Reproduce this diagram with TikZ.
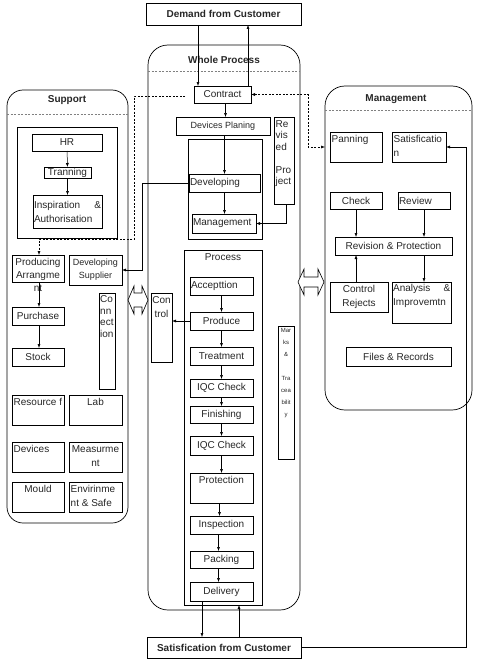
\documentclass[tikz,border=0pt]{standalone}
\usepackage{fontspec}
\setmainfont{Liberation Sans}
\usetikzlibrary{arrows.meta,calc}
\newcommand\mybox[7][]{%
 \pgfmathsetmacro\bxw{#5-#3}\pgfmathsetmacro\bxh{#6-#4}\pgfmathsetmacro\bxtw{#5-#3-2}%
 \node[box,anchor=north west,minimum width=\bxw pt,minimum height=\bxh pt,#1] (#2) at (#3,#4) {#7};}
\begin{document}
\begin{tikzpicture}[x=1pt,y=-1pt,
  box/.style={draw=black,line width=0.6pt,inner sep=0pt,outer sep=0pt,font=\fontsize{10}{13.5}\selectfont,text=black!85,align=center},
  lft/.style={text width=\bxtw pt,align=left,inner xsep=1pt},
  txt/.style={inner sep=2pt,yshift=-1.5pt,font=\fontsize{10}{13.5}\selectfont,text=black!85},
  arr/.style={line width=0.5pt,-{Latex[length=4pt,width=3pt]}},
  dsh/.style={line width=0.5pt,dash pattern=on 2pt off 1.5pt},
  cont/.style={draw=black,line width=0.7pt,rounded corners=20pt},
  ttl/.style={font=\bfseries\fontsize{10}{12}\selectfont,text=black!85},
]
\useasboundingbox (0,0) rectangle (481,661);

% containers
\mybox[cont,rounded corners=16pt]{support}{7}{90}{128}{523}{}
\mybox[cont]{whole}{148}{45}{300}{610}{}
\mybox[cont]{management}{325}{86}{472}{410}{}
\draw[dsh,gray] (7,114) -- (128,114);
\draw[dsh,gray] (148,71) -- (300,71);
\draw[dsh,gray] (325,110) -- (472,110);
\node[ttl] (supportT) at (67,100) {Support};
\node[ttl] (wholeT) at (224,60) {Whole Process};
\node[ttl] (mgmtT) at (396,99) {Management};

% customer boxes
\mybox[font=\bfseries\fontsize{10}{12}\selectfont]{demand}{146}{3}{301}{25}{Demand from Customer}
\mybox[font=\bfseries\fontsize{10}{12}\selectfont]{satis}{147}{637}{301}{658}{Satisfication from Customer}

% whole process
\mybox{contract}{194}{86}{251}{103}{Contract}
\mybox[font=\fontsize{9}{11}\selectfont]{devplan}{176}{117}{270}{135}{Devices Planing}
\mybox{revised}{274}{117}{294}{204}{}
\node[txt,anchor=north west,align=left,inner sep=1.5pt,font=\fontsize{10}{11.5}\selectfont] (revisedT) at (revised.north west) {Re\\vis\\ed\\\mbox{}\\Pro\\ject};
\mybox{devcont}{188}{139}{262}{239}{}
\mybox[lft]{developing}{189}{174}{260}{192}{Developing}
\mybox[lft]{mgmtin}{192}{214}{256}{233}{Management}

\mybox{process}{184}{250}{262}{605}{}
\node[txt,anchor=north] (processT) at (process.north) {Process};
\mybox[lft]{accept}{190}{277}{253}{295}{Accepttion}
\mybox{produce}{190}{312}{253}{330}{Produce}
\mybox{treatment}{190}{347}{253}{365}{Treatment}
\mybox{iqc1}{190}{379}{253}{397}{IQC Check}
\mybox{finishing}{190}{406}{253}{423}{Finishing}
\mybox{iqc2}{190}{436}{253}{455}{IQC Check}
\mybox{protection}{190}{473}{253}{503}{}
\node[txt,anchor=north] (protectionT) at (protection.north) {Protection};
\mybox{inspection}{190}{516}{253}{534}{Inspection}
\mybox{packing}{190}{551}{253}{568}{Packing}
\mybox{delivery}{190}{582}{253}{601}{Delivery}
\mybox{control}{151}{293}{172}{362}{}
\node[txt,anchor=north,align=center] (controlT) at (control.north) {Con\\trol};
\mybox{marks}{278}{326}{294}{459}{}
\node[txt,anchor=north,align=center,inner sep=1pt,font=\fontsize{6}{12}\selectfont] (marksT) at (marks.north) {Mar\\ks\\\&\\\mbox{}\\Tra\\cea\\bilit\\y};

% support
\mybox{hrcont}{17}{127}{117}{238}{}
\mybox{hr}{32}{134}{102}{151}{HR}
\mybox{training}{44}{167}{91}{178}{Tranning}
\mybox[lft,font=\fontsize{10}{14}\selectfont]{inspiration}{33}{195}{102}{228}{Inspiration\hfill\&\\Authorisation}
\mybox{producing}{12}{255}{64}{282}{}
\node[txt,anchor=north,align=center,font=\fontsize{10}{13}\selectfont] (producingT) at (producing.north) {Producing\\Arrangme\\nt};
\mybox[font=\fontsize{9}{13}\selectfont]{devsupplier}{69}{255}{122}{285}{Developing\\Supplier}
\mybox{purchase}{12}{307}{64}{325}{Purchase}
\mybox{stock}{12}{348}{64}{366}{Stock}
\mybox{connection}{99}{293}{115}{389}{}
\node[txt,anchor=north west,align=left,inner sep=1pt,font=\fontsize{10}{11.5}\selectfont] (connectionT) at (connection.north west) {Co\\nn\\ect\\ion};
\mybox{resource}{12}{395}{64}{425}{}
\node[txt,anchor=north west,inner sep=1.5pt] (resourceT) at (resource.north west) {Resource f};
\mybox{lab}{69}{395}{122}{425}{}
\node[txt,anchor=north] (labT) at (lab.north) {Lab};
\mybox{devices}{12}{442}{64}{472}{}
\node[txt,anchor=north west,inner sep=1.5pt] (devicesT) at (devices.north west) {Devices};
\mybox{measurement}{69}{442}{122}{472}{}
\node[txt,anchor=north,align=center,inner sep=1.5pt,font=\fontsize{10}{14}\selectfont] (measurementT) at (measurement.north) {Measurme\\nt};
\mybox{mould}{12}{482}{64}{512}{}
\node[txt,anchor=north] (mouldT) at (mould.north) {Mould};
\mybox{environment}{69}{482}{122}{512}{}
\node[txt,anchor=north west,align=left,inner sep=1.5pt,font=\fontsize{10}{14}\selectfont] (environmentT) at (environment.north west) {Envirinme\\nt \& Safe};

% management
\mybox{panning}{330}{132}{382}{162}{}
\node[txt,anchor=north west,inner sep=1.5pt] (panningT) at (panning.north west) {Panning};
\mybox{satisf}{392}{132}{446}{162}{}
\node[txt,anchor=north west,align=left,inner sep=1.5pt,font=\fontsize{10}{14}\selectfont] (satisfT) at (satisf.north west) {Satisficatio\\n};
\mybox{check}{330}{192}{382}{209}{Check}
\mybox[lft]{review}{398}{192}{450}{209}{Review}
\mybox{revision}{335}{237}{452}{255}{Revision \& Protection}
\mybox[font=\fontsize{10}{14}\selectfont]{rejects}{330}{282}{388}{312}{Control\\Rejects}
\mybox{analysis}{392}{282}{451}{323}{}
\node[txt,anchor=north west,align=left,text width=57pt,inner sep=1pt,font=\fontsize{10}{14}\selectfont] (analysisT) at (analysis.north west) {Analysis\hfill\&\\Improvemtn};
\mybox{files}{346}{347}{451}{366}{Files \& Records}

% double arrows
\draw[line width=0.6pt,fill=white] (128,300) -- (134,286) -- (134,293) -- (142,293) -- (142,286) -- (148,300) -- (142,314) -- (142,307) -- (134,307) -- (134,314) -- cycle;
\draw[line width=0.6pt,fill=white] (298,282) -- (304,269) -- (304,277) -- (318,277) -- (318,269) -- (324,282) -- (318,295) -- (318,287) -- (304,287) -- (304,295) -- cycle;

% connectors
\draw[arr] ([xshift=4pt]contract.north west |- demand.south) -- ([xshift=4pt]contract.north west);
\draw[arr] ([xshift=-3pt]contract.north east) -- ([xshift=-3pt]contract.north east |- demand.south);
\draw[arr] ([xshift=3pt]contract.south) -- ([xshift=3pt]contract.south |- devplan.north);
\draw[arr] (developing.north |- devplan.south) -- (developing.north);
\draw[arr] (developing.south) -- (developing.south |- mgmtin.north);
\draw[arr] ([xshift=2pt]revised.south) |- (mgmtin.east);
\coordinate (dj) at (142,183);
\draw[arr] (developing.west) -- (dj) |- (devsupplier.east);

\coordinate (dl0) at (185,96);
\coordinate (dl1) at (134,96);
\coordinate (dl2) at (134,239);
\draw[dsh,-{Latex[length=4pt,width=3pt]}] (dl0) -- (dl1) -- (dl2) -| ([xshift=1pt]producing.north);
\coordinate (dr) at (308,147);
\draw[dsh,{Latex[length=4pt,width=3pt]}-{Latex[length=4pt,width=3pt]}] (contract.east) -| (dr) -- (management.west |- dr);

\draw[arr] (hr) -- (training);
\draw[arr] (training) -- (inspiration);
\draw[arr] ([xshift=1pt]producing.south) -- ([xshift=1pt]purchase.north);
\draw[arr] ([xshift=1pt]purchase.south) -- ([xshift=1pt]stock.north);

\draw[arr] (accept) -- (produce);
\draw[arr] (produce) -- (treatment);
\draw[arr] (treatment) -- (iqc1);
\draw[arr] (iqc1) -- (finishing);
\draw[arr] (finishing) -- (iqc2);
\draw[arr] (iqc2) -- (protection);
\draw[arr] ([xshift=-2pt]protection.south) -- ([xshift=-2pt]inspection.north);
\draw[arr] ([xshift=-3pt]inspection.south) -- ([xshift=-3pt]packing.north);
\draw[arr] ([xshift=-3pt]packing.south) -- ([xshift=-3pt]delivery.north);
\draw[arr] (produce.west) -- (control.east |- produce.west);

\draw[arr] ([xshift=-19.5pt]delivery.south) -- ([xshift=-19.5pt]delivery.south |- satis.north);
\draw[arr] ([xshift=16pt]process.south |- satis.north) -- ([xshift=16pt]process.south);
\coordinate (sr) at (466,0);
\draw[arr] (satis.east) -| (satisf.east -| sr) -- (satisf.east);

\draw[arr] (check) -- (check |- revision.north);
\draw[arr] (review) -- (review |- revision.north);
\draw[arr] (rejects.north -| check.south) -- (check.south |- revision.south);
\draw[arr] (review.south |- revision.south) -- (review.south |- analysis.north);
\end{tikzpicture}
\end{document}
